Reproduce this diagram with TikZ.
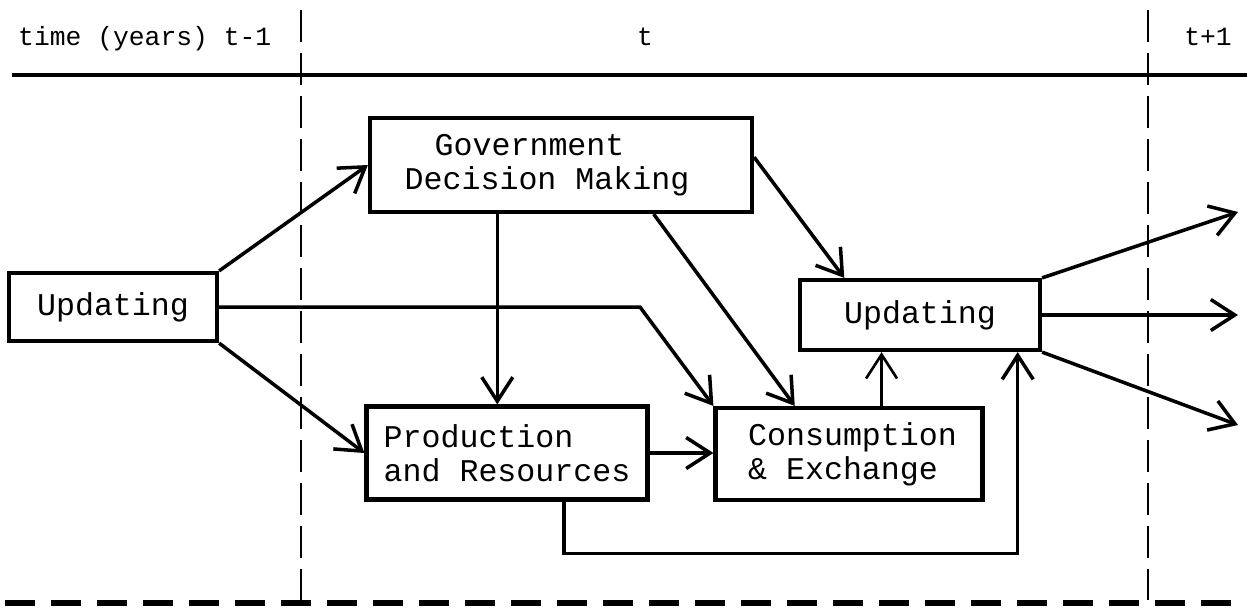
\documentclass[tikz,border=0pt]{standalone}
\usepackage{fontspec}
\newfontfamily\typefont{Liberation Mono}
\usetikzlibrary{arrows.meta}
\usetikzlibrary{calc}

\begin{document}
\begin{tikzpicture}
    [
    x=0.2mm, y=-0.2mm,
    box/.style={draw,line width=2.4pt,inner sep=0pt,align=left,
      font=\typefont\fontsize{18}{19.5}\selectfont},
    flow/.style={line width=2pt,-{Straight Barb[length=4.8mm,width=6.2mm]}},
    divider/.style={line width=1.3pt,dash pattern=on 6.4mm off 2.2mm},
    stamp/.style={font=\typefont\fontsize{15}{16}\selectfont,anchor=base},
    ]
    \useasboundingbox (0,0) rectangle (1247,615);

    % time axis and year borders
    \draw [line width=2.6pt] (12,75) -- (1247,75);
    \draw [divider] (301,10) -- (301,600);
    \draw [divider] (1148,10) -- (1148,600);
    \draw [line width=3pt,dash pattern=on 6mm off 3.2mm] (5,603) -- (1247,603);
    \node (tprev) at (12,45) [stamp, anchor=base west] {time (years) t-1};
    \node (tnow) at (645,45) [stamp] {t};
    \node (tnext) at (1208,45) [stamp] {t+1};

    % model blocks
    \node (upd0) at (113,307) [box, minimum width=41.6mm, minimum height=13.6mm] {Updating};
    \node (gov) at (561,165) [box, minimum width=76.4mm, minimum height=18.8mm]
      {\rule{6mm}{0pt}Government\\Decision Making\rule{5.6mm}{0pt}};
    \node (prod) at (507,453) [box, minimum width=56.2mm, minimum height=18.6mm]
      {Production\\and Resources};
    \node (cons) at (849,454) [box, minimum width=53.4mm, minimum height=18.4mm]
      {\rule{1.4mm}{0pt}Consumption\\\rule{1.4mm}{0pt}\& Exchange};
    \node (upd1) at (920,315) [box, minimum width=48mm, minimum height=14mm] {Updating};

    % flows inside year t
    \coordinate (kink) at (640,307);
    \draw [flow] (upd0.north east) -- (gov.west);
    \draw [flow] (upd0.east) -- (kink) -- (cons.north west);
    \draw [flow] (upd0.south east) -- (prod.west);
    \draw [flow] ($(gov.south west)!0.335!(gov.south east)$) coordinate (g1) -- (g1 |- prod.north);
    \draw [flow] ($(gov.south west)!0.74!(gov.south east)$) -- ($(cons.north west)!0.3!(cons.north east)$);
    \draw [flow] ($(gov.north east)!0.42!(gov.south east)$) -- ($(upd1.north west)!0.19!(upd1.north east)$);
    \draw [flow] (prod.east) -- (prod.east -| cons.west);
    \draw [flow, line width=1.5pt] ($(cons.north west)!0.62!(cons.north east)$) coordinate (c1) -- (c1 |- upd1.south);
    \draw [flow] ($(prod.south west)!0.7!(prod.south east)$) -- ++(0,52)
      -| ($(upd1.south west)!0.9!(upd1.south east)$);

    % into year t+1
    \coordinate (out1) at (1238,212);
    \coordinate (out2) at (1238,315);
    \coordinate (out3) at (1238,425);
    \foreach \a/\b in {north east/out1, east/out2, south east/out3}
      \draw [flow] (upd1.\a) -- (\b);
\end{tikzpicture}
\end{document}
